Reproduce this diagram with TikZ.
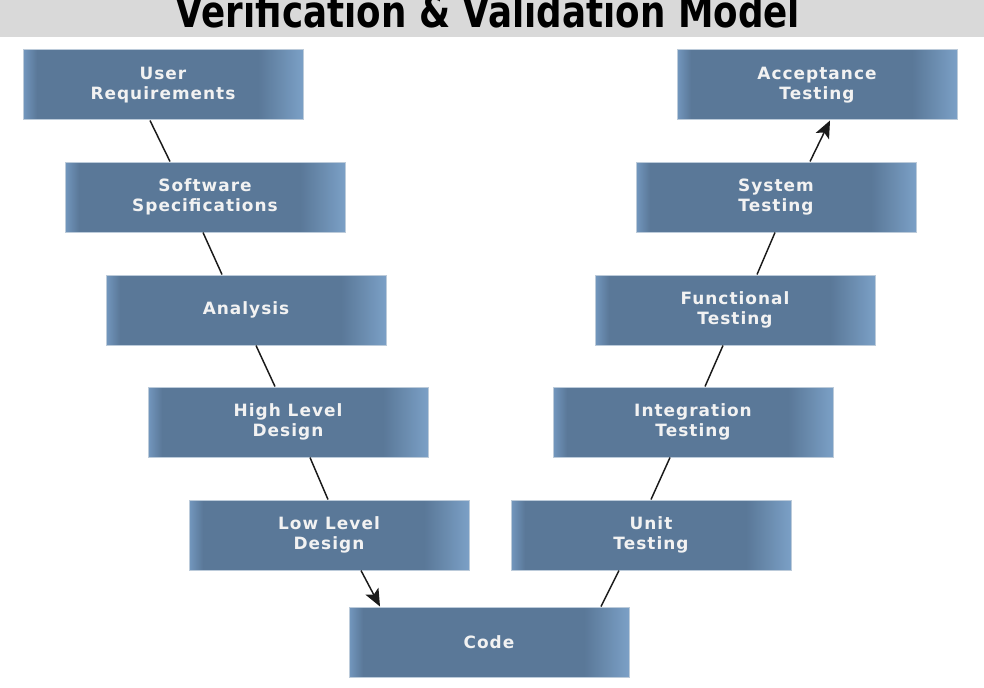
\documentclass[tikz,border=0pt]{standalone}
\usepackage{fontspec}
\setmainfont{DejaVu Sans}
\newfontfamily\boxfont[LetterSpace=6]{DejaVu Sans}
\usetikzlibrary{arrows.meta}
\definecolor{boxbase}{HTML}{5A7898}
\definecolor{boxlight}{HTML}{7397BE}
\definecolor{boxlightr}{HTML}{7BA0C6}
\definecolor{boxedge}{HTML}{BCCBDA}
\definecolor{boxtext}{HTML}{F2F2F2}
\definecolor{bandgray}{HTML}{D9D9D9}
\definecolor{connc}{HTML}{1A1A1A}
\pgfdeclarehorizontalshading{vvbox}{100bp}{color(0bp)=(boxlight); color(25bp)=(boxlight); color(27.5bp)=(boxbase); color(67bp)=(boxbase); color(75bp)=(boxlightr); color(100bp)=(boxlightr)}
\tikzset{
  vbox/.style={draw=boxedge, line width=0.75pt, shade, shading=vvbox,
    minimum width=210pt, minimum height=52.5pt, inner sep=0pt,
    text=boxtext, align=center,
    font=\boxfont\bfseries\fontsize{12.7pt}{14.6pt}\selectfont},
  conn/.style={draw=connc, line width=1.1pt},
  connarrow/.style={conn, -{Stealth[length=13pt,width=11pt,inset=3pt]}}
}
\begin{document}
\begin{tikzpicture}[x=0.75pt,y=-0.75pt]
\useasboundingbox (0,0) rectangle (984,688);
\fill[white] (0,0) rectangle (984,688);
\fill[bandgray] (0,0) rectangle (984,37);
\node[anchor=base, inner sep=0pt] (title) at (488,28)
  {\resizebox{468pt}{\height}{\fontsize{33pt}{33pt}\selectfont\bfseries Verification \& Validation Model}};

\node[vbox] (ur) at (163,85) {User\\Requirements};
\node[vbox] (ss) at (205,197) {Software\\Specifications};
\node[vbox] (an) at (246,310) {Analysis};
\node[vbox] (hl) at (288,422) {High Level\\Design};
\node[vbox] (ll) at (329,535) {Low Level\\Design};
\node[vbox] (co) at (489,642) {Code};
\node[vbox] (ut) at (651,535) {Unit\\Testing};
\node[vbox] (it) at (693,422) {Integration\\Testing};
\node[vbox] (ft) at (735,310) {Functional\\Testing};
\node[vbox] (st) at (776,197) {System\\Testing};
\node[vbox] (at) at (817,85) {Acceptance\\Testing};

\draw[conn] ([xshift=-9.75pt]ur.south) -- ([xshift=-26.25pt]ss.north);
\draw[conn] ([xshift=-1.5pt]ss.south) -- ([xshift=-18pt]an.north);
\draw[conn] ([xshift=7.5pt]an.south) -- ([xshift=-9.75pt]hl.north);
\draw[conn] ([xshift=16.5pt]hl.south) -- ([xshift=-0.75pt]ll.north);
\draw[connarrow] ([xshift=24pt]ll.south) -- ([xshift=-81.75pt]co.north);
\draw[conn] ([xshift=84pt]co.north) -- ([xshift=-24pt]ut.south);
\draw[conn] (ut.north) -- ([xshift=-17.25pt]it.south);
\draw[conn] ([xshift=9pt]it.north) -- ([xshift=-9pt]ft.south);
\draw[conn] ([xshift=16.5pt]ft.north) -- ([xshift=-0.75pt]st.south);
\draw[connarrow] ([xshift=25.5pt]st.north) -- ([xshift=9.75pt]at.south);
\end{tikzpicture}
\end{document}
